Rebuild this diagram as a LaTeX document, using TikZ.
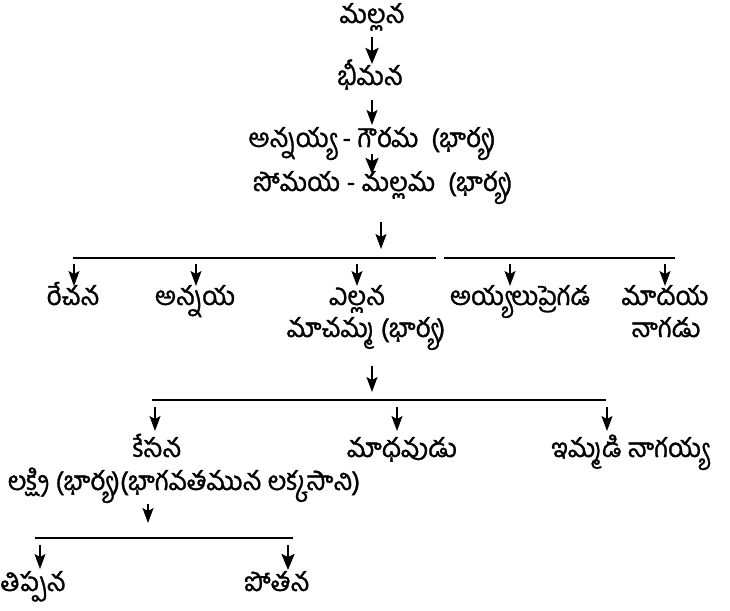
\documentclass[tikz,border=0pt]{standalone}
\usepackage{fontspec}
\newfontfamily\telugu[Script=Telugu,FakeBold=1.2]{Hind Guntur}
\usetikzlibrary{arrows.meta}
\begin{document}
\begin{tikzpicture}[x=1pt,y=-1pt,
  lbl/.style={font=\telugu\fontsize{26}{30}\selectfont, inner sep=0pt, anchor=base},
  arr/.style={-{Stealth[length=15pt,width=11pt,inset=3pt]}, line width=1.1pt},
  barr/.style={-{Stealth[length=16pt,width=13pt,inset=3pt]}, line width=2.4pt},
  bar/.style={line width=1.2pt}]
\useasboundingbox[fill=white] (0,0) rectangle (730,610);
% generation nodes
\node[lbl] (mallana) at (372,23) {మల్లన};
\node[lbl] (bhimana) at (370,85) {భీమన};
\node[lbl] (annayya) at (372,147) {అన్నయ్య - గౌరమ\ \ (భార్య)};
\node[lbl] (somaya) at (383,191) {సోమయ - మల్లమ\ \ (భార్య)};
\node[lbl] (recana) at (73,305) {రేచన};
\node[lbl] (annaya) at (195,305) {అన్నయ};
\node[lbl] (ellana) at (357,305) {ఎల్లన};
\node[lbl] (macamma) at (366,337) {మాచమ్మ (భార్య)};
\node[lbl] (ayyalu) at (520,305) {అయ్యలుప్రెగడ};
\node[lbl] (madaya) at (665,305) {మాదయ};
\node[lbl] (nagadu) at (666,337) {నాగడు};
\node[lbl] (kesana) at (157,457) {కేసన};
\node[lbl] (madhavudu) at (402,457) {మాధవుడు};
\node[lbl] (immadi) at (630,457) {ఇమ్మడి నాగయ్య};
\node[lbl] (lakshmi) at (184,490) {లక్ష్మి (భార్య)(భాగవతమున లక్కసాని)};
\node[lbl] (tippana) at (33,591) {తిప్పన};
\node[lbl] (potana) at (277,591) {పోతన};
% bars
\coordinate (b1l) at (73,258);
\coordinate (b1m) at (436,258);
\coordinate (b2l) at (444,258);
\coordinate (b2r) at (675,258);
\coordinate (b3l) at (152,400);
\coordinate (b3r) at (606,400);
\coordinate (b4l) at (35,538);
\coordinate (b4r) at (293,538);
\draw[bar] (b1l) -- (b1m);
\draw[bar] (b2l) -- (b2r);
\draw[bar] (b3l) -- (b3r);
\draw[bar] (b4l) -- (b4r);
% connectors
\coordinate (a1s) at (372,37);
\coordinate (a1e) at (372,64);
\draw[barr] (a1s) -- (a1e);
\coordinate (a2s) at (372,100);
\coordinate (a2e) at (372,125);
\draw[arr] (a2s) -- (a2e);
\coordinate (a3s) at (372,154);
\coordinate (a3e) at (372,174);
\draw[barr] (a3s) -- (a3e);
\coordinate (a4s) at (381,222);
\coordinate (a4e) at (381,249);
\draw[arr] (a4s) -- (a4e);
\foreach \n/\x in {recana/74, annaya/196, ellana/357, ayyalu/510, madaya/665}{
  \draw[arr] (\x,264) -- (\x,286);
}
\coordinate (a5s) at (372,366);
\coordinate (a5e) at (372,392);
\draw[arr] (a5s) -- (a5e);
\foreach \n/\x in {kesana/155, madhavudu/397, immadi/607}{
  \draw[arr] (\x,407) -- (\x,431);
}
\coordinate (a6s) at (148,504);
\coordinate (a6e) at (148,523);
\draw[arr] (a6s) -- (a6e);
\draw[arr] (40,545) -- (40,569);
\draw[barr] (288,545) -- (288,570);
\end{tikzpicture}
\end{document}
